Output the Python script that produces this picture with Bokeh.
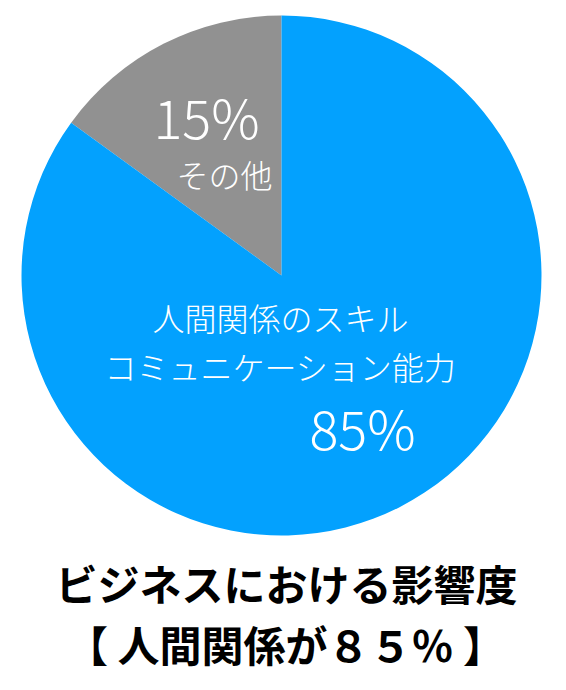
import math
from bokeh.plotting import figure
from bokeh.models import ColumnDataSource, Range1d
from bokeh.core.properties import value
from bokeh.embed import file_html
from bokeh.resources import INLINE

# ---- data ----
categories = ["その他", "人間関係のスキル\nコミュニケーション能力"]
shares = [15, 85]
pct_labels = ["15%", "85%"]
colors = ["#919191", "#03A1FE"]
title_lines = ["ビジネスにおける影響度", "【 人間関係が８５％ 】"]

W, H = 550, 674
CX, CY, R = 281, 399, 260

p = figure(width=W, height=H, output_backend="svg", toolbar_location=None,
           x_range=Range1d(0, W), y_range=Range1d(0, H),
           min_border=0, outline_line_color=None)
p.axis.visible = False
p.grid.visible = False
p.background_fill_color = "white"
p.border_fill_color = "white"

# wedges, starting at 12 o'clock, anticlockwise for the first (gray) slice
total = sum(shares)
starts, ends = [], []
a = math.pi / 2
for s in shares:
    starts.append(a)
    a += 2 * math.pi * s / total
    ends.append(a)

src = ColumnDataSource(dict(start=starts, end=ends, color=colors,
                            x=[CX] * len(shares), y=[CY] * len(shares)))
p.wedge(x="x", y="y", radius=R, start_angle="start", end_angle="end",
        fill_color="color", line_color=None, source=src)

FONT = value("Noto Sans CJK JP")
LIGHT = value("Noto Sans CJK JP Light")

def Y(v):
    return H - v

# slice labels
p.text(x=[206], y=[Y(115)], text=[pct_labels[0]], text_font=LIGHT, text_font_size="54px",
       text_color="white", text_align="center", text_baseline="middle")
p.text(x=[224], y=[Y(173)], text=[categories[0]], text_font=LIGHT, text_font_size="32px",
       text_color="white", text_align="center", text_baseline="middle")
cat_lines = categories[1].split("\n")
p.text(x=[280, 280], y=[Y(316), Y(365)], text=cat_lines, text_font=LIGHT, text_font_size="32px",
       text_color="white", text_align="center", text_baseline="middle")
p.text(x=[362], y=[Y(426)], text=[pct_labels[1]], text_font=LIGHT, text_font_size="54px",
       text_color="white", text_align="center", text_baseline="middle")

# title below
p.text(x=[286, 285], y=[Y(582), Y(643)], text=title_lines, text_font=FONT, text_font_size="42px",
       text_font_style="bold", text_color="black", text_align="center", text_baseline="middle")

open("out.html", "w").write(file_html(p, INLINE))
